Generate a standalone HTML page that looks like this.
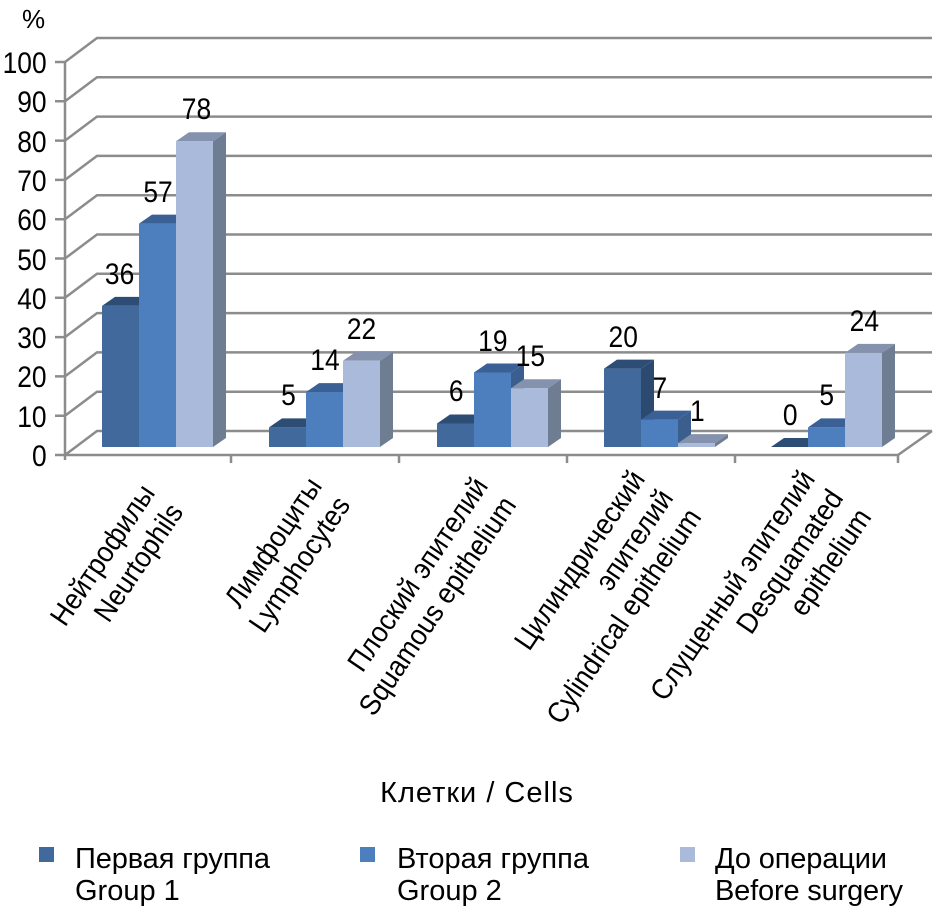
<!DOCTYPE html>
<html><head><meta charset="utf-8"><style>
html,body{margin:0;padding:0;background:#fff;}
svg{display:block;font-family:"Liberation Sans","DejaVu Sans",sans-serif;}
</style></head><body>
<svg width="940" height="908" viewBox="0 0 940 908" xmlns="http://www.w3.org/2000/svg">
<g stroke="#8c8c8c" stroke-width="2.5" fill="none">
<path d="M65 455 L97 431 L932 431 M65 415.7 L97 391.7 L932 391.7 M65 376.4 L97 352.4 L932 352.4 M65 337.1 L97 313.1 L932 313.1 M65 297.8 L97 273.8 L932 273.8 M65 258.5 L97 234.5 L932 234.5 M65 219.2 L97 195.2 L932 195.2 M65 179.9 L97 155.9 L932 155.9 M65 140.6 L97 116.6 L932 116.6 M65 101.3 L97 77.3 L932 77.3 M65 62 L97 38 L932 38"/>
<path d="M932 431 L898 455"/>
<path d="M65 62 L65 460 M65 455 L898 455"/>
<path d="M55 455 H65 M55 415.7 H65 M55 376.4 H65 M55 337.1 H65 M55 297.8 H65 M55 258.5 H65 M55 219.2 H65 M55 179.9 H65 M55 140.6 H65 M55 101.3 H65 M55 62 H65"/>
<path d="M231 455 V463 M399 455 V463 M567 455 V463 M735 455 V463 M898 455 V463"/>
</g>
<g font-size="30" fill="#000" text-anchor="end" transform="scale(0.88,1)">
<text x="53" y="466">0</text><text x="53" y="427">10</text><text x="53" y="387">20</text><text x="53" y="348">30</text><text x="53" y="309">40</text><text x="53" y="270">50</text><text x="53" y="230">60</text><text x="53" y="191">70</text><text x="53" y="152">80</text><text x="53" y="112">90</text><text x="53" y="73">100</text>
</g>
<text x="22" y="28" font-size="26">%</text>

<polygon fill="#2c4a70" points="139,305.9 152,296.9 152,438 139,447"/><polygon fill="#2e4d75" points="102,305.9 115,296.9 152,296.9 139,305.9"/><rect fill="#41699c" x="102" y="305.9" width="37" height="141.1"/>
<polygon fill="#3a5f8e" points="176,223.6 189,214.6 189,438 176,447"/><polygon fill="#3a6096" points="139,223.6 152,214.6 189,214.6 176,223.6"/><rect fill="#4d7fbe" x="139" y="223.6" width="37" height="223.4"/>
<polygon fill="#6f7d93" points="213,141.2 226,132.2 226,438 213,447"/><polygon fill="#8592ad" points="176,141.2 189,132.2 226,132.2 213,141.2"/><rect fill="#a9badb" x="176" y="141.2" width="37" height="305.8"/>
<polygon fill="#2c4a70" points="306,427.4 319,418.4 319,438 306,447"/><polygon fill="#2e4d75" points="269,427.4 282,418.4 319,418.4 306,427.4"/><rect fill="#41699c" x="269" y="427.4" width="37" height="19.6"/>
<polygon fill="#3a5f8e" points="343,392.1 356,383.1 356,438 343,447"/><polygon fill="#3a6096" points="306,392.1 319,383.1 356,383.1 343,392.1"/><rect fill="#4d7fbe" x="306" y="392.1" width="37" height="54.9"/>
<polygon fill="#6f7d93" points="380,360.8 393,351.8 393,438 380,447"/><polygon fill="#8592ad" points="343,360.8 356,351.8 393,351.8 380,360.8"/><rect fill="#a9badb" x="343" y="360.8" width="37" height="86.2"/>
<polygon fill="#2c4a70" points="474,423.5 487,414.5 487,438 474,447"/><polygon fill="#2e4d75" points="437,423.5 450,414.5 487,414.5 474,423.5"/><rect fill="#41699c" x="437" y="423.5" width="37" height="23.5"/>
<polygon fill="#3a5f8e" points="511,372.5 524,363.5 524,438 511,447"/><polygon fill="#3a6096" points="474,372.5 487,363.5 524,363.5 511,372.5"/><rect fill="#4d7fbe" x="474" y="372.5" width="37" height="74.5"/>
<polygon fill="#6f7d93" points="548,388.2 561,379.2 561,438 548,447"/><polygon fill="#8592ad" points="511,388.2 524,379.2 561,379.2 548,388.2"/><rect fill="#a9badb" x="511" y="388.2" width="37" height="58.8"/>
<polygon fill="#2c4a70" points="641,368.6 654,359.6 654,438 641,447"/><polygon fill="#2e4d75" points="604,368.6 617,359.6 654,359.6 641,368.6"/><rect fill="#41699c" x="604" y="368.6" width="37" height="78.4"/>
<polygon fill="#3a5f8e" points="678,419.6 691,410.6 691,438 678,447"/><polygon fill="#3a6096" points="641,419.6 654,410.6 691,410.6 678,419.6"/><rect fill="#4d7fbe" x="641" y="419.6" width="37" height="27.4"/>
<polygon fill="#6f7d93" points="715,443.1 728,434.1 728,438 715,447"/><polygon fill="#8592ad" points="678,443.1 691,434.1 728,434.1 715,443.1"/><rect fill="#a9badb" x="678" y="443.1" width="37" height="3.9"/>
<polygon fill="#2e4d75" points="771,447 784,438 821,438 808,447"/>
<polygon fill="#3a5f8e" points="845,427.4 858,418.4 858,438 845,447"/><polygon fill="#3a6096" points="808,427.4 821,418.4 858,418.4 845,427.4"/><rect fill="#4d7fbe" x="808" y="427.4" width="37" height="19.6"/>
<polygon fill="#6f7d93" points="882,352.9 895,343.9 895,438 882,447"/><polygon fill="#8592ad" points="845,352.9 858,343.9 895,343.9 882,352.9"/><rect fill="#a9badb" x="845" y="352.9" width="37" height="94.1"/>

<g font-size="30" text-anchor="middle" fill="#000">
<text x="120" y="284" transform="translate(14,0) scale(0.88,1)">36</text>
<text x="158" y="202" transform="translate(19,0) scale(0.88,1)">57</text>
<text x="196" y="119" transform="translate(24,0) scale(0.88,1)">78</text>
<text x="288" y="405" transform="translate(35,0) scale(0.88,1)">5</text>
<text x="325" y="370" transform="translate(39,0) scale(0.88,1)">14</text>
<text x="362" y="339" transform="translate(43,0) scale(0.88,1)">22</text>
<text x="456" y="401" transform="translate(55,0) scale(0.88,1)">6</text>
<text x="493" y="351" transform="translate(59,0) scale(0.88,1)">19</text>
<text x="530" y="366" transform="translate(64,0) scale(0.88,1)">15</text>
<text x="623" y="347" transform="translate(75,0) scale(0.88,1)">20</text>
<text x="660" y="398" transform="translate(79,0) scale(0.88,1)">7</text>
<text x="697" y="421" transform="translate(84,0) scale(0.88,1)">1</text>
<text x="790" y="425" transform="translate(95,0) scale(0.88,1)">0</text>
<text x="827" y="405" transform="translate(99,0) scale(0.88,1)">5</text>
<text x="864" y="331" transform="translate(104,0) scale(0.88,1)">24</text>
</g>

<g font-size="29" fill="#000" text-anchor="end">
<g transform="translate(156,493) rotate(-56) scale(0.92,1)"><text x="0" y="0">Нейтрофилы</text><text x="0" y="34">Neurtophils</text></g>
<g transform="translate(323,486) rotate(-56) scale(0.92,1)"><text x="0" y="0">Лимфоциты</text><text x="0" y="34">Lymphocytes</text></g>
<g transform="translate(489,486) rotate(-56) scale(0.92,1)"><text x="0" y="0">Плоский  эпителий</text><text x="0" y="34">Squamous  epithelium</text></g>
<g transform="translate(646,479) rotate(-56) scale(0.92,1)"><text x="0" y="0">Цилиндрический</text><text x="0" y="34">эпителий</text><text x="0" y="68">Cylindrical  epithelium</text></g>
<g transform="translate(816,479) rotate(-56) scale(0.92,1)"><text x="0" y="0">Слущенный  эпителий</text><text x="0" y="34">Desquamated</text><text x="0" y="68">epithelium</text></g>
</g>
<text x="477" y="802" font-size="29" text-anchor="middle" letter-spacing="1">Клетки / Cells</text>
<rect x="39" y="847" width="15" height="15" fill="#41699c"/>
<rect x="360" y="847" width="15" height="15" fill="#4d7fbe"/>
<rect x="680" y="847" width="15" height="15" fill="#a9badb"/>
<g font-size="29">
<text x="75" y="868" textLength="195">Первая  группа</text><text x="75" y="900">Group 1</text>
<text x="397" y="868" textLength="192">Вторая  группа</text><text x="397" y="900">Group 2</text>
<text x="715" y="868" textLength="172">До операции</text><text x="715" y="900" textLength="188">Before surgery</text>
</g>
</svg>
</body></html>
